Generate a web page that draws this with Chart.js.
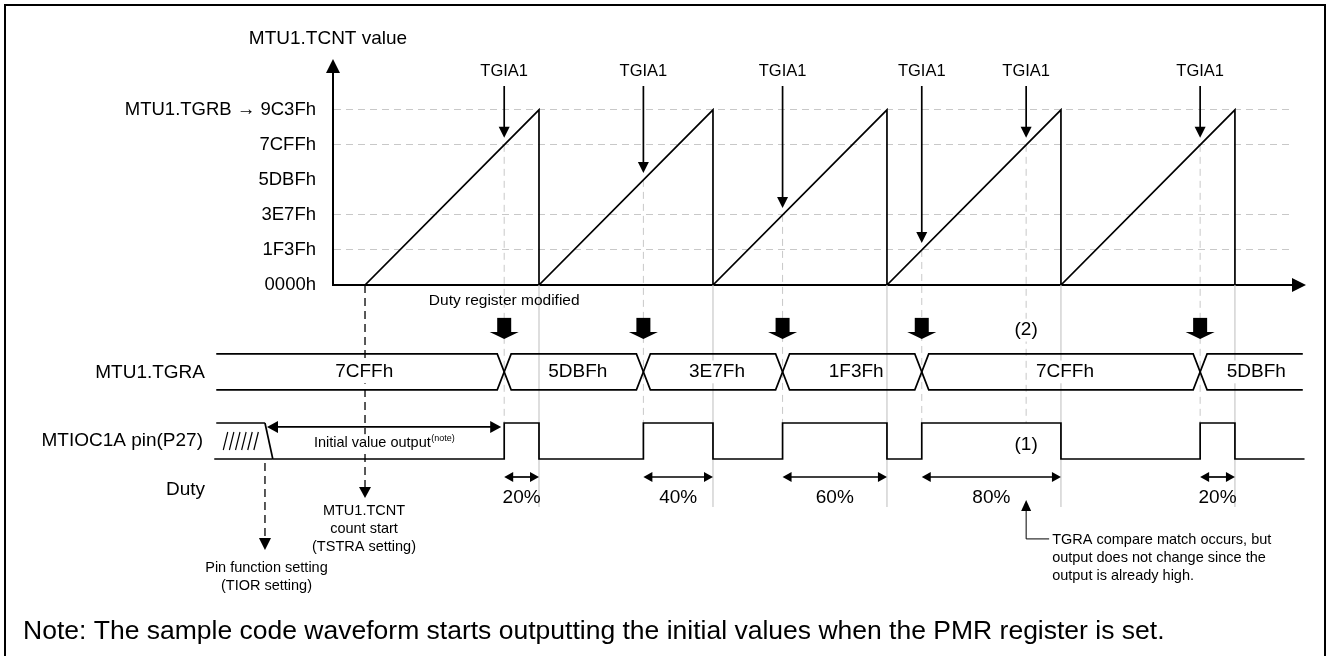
<!DOCTYPE html>
<html>
<head>
<meta charset="utf-8">
<title>MTU1 PWM duty change timing</title>
<script src="https://cdn.jsdelivr.net/npm/chart.js@4.4.1/dist/chart.umd.min.js"></script>
<style>
  html, body { margin: 0; padding: 0; background: #fff; }
  canvas { display: block; }
</style>
</head>
<body>
<canvas id="timing" width="1328" height="656"></canvas>
<script>
// values (time is counted in TCNT periods, 0 = count start)
const TGRB = 0x9C3F;
const tickValues = [0x0000, 0x1F3F, 0x3E7F, 0x5DBF, 0x7CFF, 0x9C3F];
const tickLabels = ['0000h', '1F3Fh', '3E7Fh', '5DBFh', '7CFFh', 'MTU1.TGRB \u2192 9C3Fh'];
const guideTicks = [0x1F3F, 0x3E7F, 0x7CFF, 0x9C3F];

const periodStarts = [0, 1, 2, 3, 4];
const dutyPercent = [20, 40, 60, 80, 20];
const dutyLabels = ['20%', '40%', '60%', '80%', '20%'];

const tgiaTimes = [0.8, 1.6, 2.4, 3.2, 3.8, 4.8];
const tgiaCounts = [0x7CFF, 0x5DBF, 0x3E7F, 0x1F3F, 0x7CFF, 0x7CFF];

const tgraChangeTimes = [0.8, 1.6, 2.4, 3.2, 4.8];
const tgraLabels = ['7CFFh', '5DBFh', '3E7Fh', '1F3Fh', '7CFFh', '5DBFh'];

const pinSetTime = -0.575;      // TIOR written
const timelineStart = -0.855;
const timelineEnd = 5.40;

const calloutLines = ['TGRA compare match occurs, but', 'output does not change since the', 'output is already high.'];
const noteText = 'Note: The sample code waveform starts outputting the initial values when the PMR register is set.';

// rows below the counter plot, in "lane" units (1 unit = pin swing)
const LANE = {
  editNote: 4.39, blockTop: 3.92, blockNeck: 3.53, blockTip: 3.33, mark2: 3.58,
  busHigh: 2.92, busLow: 1.92,
  initArrow: 0.89, pinHigh: 1, initText: 0.44, mark1: 0.39, pinLow: 0,
  dutyArrow: -0.5, dutyName: -0.86, dutyText: -1.08,
  startTip: -1.08, startText: -1.44, guideEnd: -1.33,
  tiorTop: -0.11, tiorTip: -2.53, tiorText: -3.03,
  calloutTip: -1.14, calloutCorner: -2.22, calloutText: -2.25,
  lineStep: 0.5
};

const FONT = '"Liberation Sans", Arial, Helvetica, sans-serif';
const GUIDE = '#c8c8c8';
const SLOPE = 0.045;   // width of the pin slope, in periods
const CROSS = 0.04;    // half width of a bus crossing, in periods
const LW = 1.7;
Chart.defaults.font.family = FONT;
Chart.defaults.color = '#000';

// counter sawtooth
const rampPoints = [];
periodStarts.forEach(s => rampPoints.push({x: s, y: 0}, {x: s + 1, y: TGRB}));
rampPoints.push({x: periodStarts[periodStarts.length - 1] + 1, y: 0});

// pin output: goes high on compare match A, low on compare match B
const pinPoints = [{x: pinSetTime + SLOPE, y: LANE.pinLow}];
periodStarts.forEach((s, i) => {
  pinPoints.push({x: s + 1 - dutyPercent[i] / 100, y: LANE.pinHigh}, {x: s + 1, y: LANE.pinLow});
});
pinPoints.push({x: timelineEnd, y: LANE.pinLow});

// TGRA bus drawn as two polylines that swap rows at each change
const busLevels = [LANE.busLow, LANE.busHigh];
const busA = [{x: timelineStart, y: busLevels[1]}];
const busB = [{x: timelineStart, y: busLevels[0]}];
tgraChangeTimes.forEach((t, i) => {
  const a = (i + 1) % 2, b = i % 2;
  busA.push({x: t - CROSS, y: busLevels[a]}, {x: t + CROSS, y: busLevels[b]});
  busB.push({x: t - CROSS, y: busLevels[b]}, {x: t + CROSS, y: busLevels[a]});
});
busA.push({x: timelineEnd - 0.01, y: busA[busA.length - 1].y});
busB.push({x: timelineEnd - 0.01, y: busB[busB.length - 1].y});

const line = (ctx, x1, y1, x2, y2, color = '#000', width = LW, dash = []) => {
  ctx.save();
  ctx.strokeStyle = color; ctx.lineWidth = width; ctx.setLineDash(dash);
  ctx.beginPath(); ctx.moveTo(x1, y1); ctx.lineTo(x2, y2); ctx.stroke();
  ctx.restore();
};

const head = (ctx, x, y, dir, len = 10, half = 5) => {
  const [dx, dy] = {up: [0, -1], down: [0, 1], left: [-1, 0], right: [1, 0]}[dir];
  ctx.save();
  ctx.fillStyle = '#000';
  ctx.beginPath();
  ctx.moveTo(x, y);
  ctx.lineTo(x - dx * len - dy * half, y - dy * len - dx * half);
  ctx.lineTo(x - dx * len + dy * half, y - dy * len + dx * half);
  ctx.closePath(); ctx.fill();
  ctx.restore();
};

const text = (ctx, str, x, y, size, align = 'center', bg = false) => {
  ctx.save();
  ctx.font = `${size}px ${FONT}`;
  ctx.textAlign = align; ctx.textBaseline = 'middle';
  if (bg) {
    const w = ctx.measureText(str).width;
    const left = align === 'center' ? x - w / 2 : align === 'right' ? x - w : x;
    ctx.fillStyle = '#fff';
    ctx.fillRect(left - 2, y - size * 0.6, w + 4, size * 1.2);
  }
  ctx.fillStyle = '#000';
  ctx.fillText(str, x, y);
  ctx.restore();
};

const mappers = chart => ({
  x: t => chart.scales.x.getPixelForValue(t),
  y: v => chart.scales.y.getPixelForValue(v),
  l: v => chart.scales.lane.getPixelForValue(v),
});

const timingPlugin = {
  id: 'timing',
  beforeDatasetsDraw(chart) {
    const {ctx} = chart;
    const {x, y, l} = mappers(chart);
    tgiaTimes.forEach((t, i) => line(ctx, x(t), y(tgiaCounts[i]), x(t), l(LANE.pinHigh), GUIDE, 1, [7, 5]));
    periodStarts.forEach(s => line(ctx, x(s + 1), y(0), x(s + 1), l(LANE.guideEnd), GUIDE, 1.2));
  },
  afterDatasetsDraw(chart) {
    const {ctx, chartArea: area} = chart;
    const {x, y, l} = mappers(chart);

    // axis arrows and title
    line(ctx, area.left, area.top, area.left, area.top + 2, '#000', 2);
    head(ctx, area.left, area.top - 14, 'up', 14, 7);
    head(ctx, area.right + 14, area.bottom, 'right', 14, 7);
    text(ctx, 'MTU1.TCNT value', area.left - 5, area.top - 34.5, 19);

    // TGIA1 interrupts
    tgiaTimes.forEach((t, i) => {
      text(ctx, 'TGIA1', x(t), area.top - 1.5, 16.5);
      line(ctx, x(t), area.top + 13, x(t), y(tgiaCounts[i]) - 14);
      head(ctx, x(t), y(tgiaCounts[i]) - 7, 'down', 11, 5.5);
    });

    // count start
    line(ctx, x(0), y(0), x(0), l(LANE.startTip) - 8, '#000', 1.3, [8, 5]);
    head(ctx, x(0), l(LANE.startTip), 'down', 11, 6);
    ['MTU1.TCNT', 'count start', '(TSTRA setting)'].forEach((s, i) =>
      text(ctx, s, x(0) - 1, l(LANE.startText - i * LANE.lineStep), 14.5));

    // duty register modified
    text(ctx, 'Duty register modified', x(tgraChangeTimes[0]), l(LANE.editNote), 15.5);
    tgraChangeTimes.forEach(t => {
      const cx = x(t);
      ctx.save();
      ctx.fillStyle = '#000';
      ctx.fillRect(cx - 7, l(LANE.blockTop), 14, l(LANE.blockNeck) - l(LANE.blockTop) + 0.5);
      ctx.restore();
      head(ctx, cx, l(LANE.blockTip), 'down', l(LANE.blockTip) - l(LANE.blockNeck), 14.5);
    });
    text(ctx, '(2)', x(tgiaTimes[4]), l(LANE.mark2), 19, 'center', true);

    // TGRA values
    const edges = [timelineStart, ...tgraChangeTimes, timelineEnd];
    tgraLabels.forEach((s, i) =>
      text(ctx, s, (x(edges[i]) + x(edges[i + 1])) / 2 + 4, l((LANE.busHigh + LANE.busLow) / 2), 19, 'center', true));

    // row names
    const nameX = area.left - 128;
    text(ctx, 'MTU1.TGRA', nameX, l((LANE.busHigh + LANE.busLow) / 2) + 1, 19, 'right');
    text(ctx, 'MTIOC1A pin(P27)', nameX - 2, l((LANE.pinHigh + LANE.pinLow) / 2), 19, 'right');
    text(ctx, 'Duty', nameX, l(LANE.dutyName), 19, 'right');

    // undefined pin state before TIOR setting
    const xs = x(timelineStart), xp = x(pinSetTime), xq = x(pinSetTime + SLOPE);
    line(ctx, xs, l(LANE.pinHigh), xp, l(LANE.pinHigh));
    line(ctx, xs - 2, l(LANE.pinLow), xq, l(LANE.pinLow));
    line(ctx, xp, l(LANE.pinHigh), xq, l(LANE.pinLow));
    const hatchW = (xp - xs - 12) / 6;
    for (let i = 0; i < 6; i++) {
      const hx = xs + 7 + i * hatchW;
      line(ctx, hx, l(0.25), hx + 4.5, l(0.75), '#000', 1.2);
    }
    line(ctx, xp, l(LANE.tiorTop), xp, l(LANE.tiorTip) - 8, '#000', 1.3, [8, 5]);
    head(ctx, xp, l(LANE.tiorTip), 'down', 12, 6);
    ['Pin function setting', '(TIOR setting)'].forEach((s, i) =>
      text(ctx, s, xp + 1.5, l(LANE.tiorText - i * LANE.lineStep), 14.5));

    // initial value output
    const a0 = xp + 2, a1 = x(tgiaTimes[0]) - 3, ay = l(LANE.initArrow);
    line(ctx, a0 + 8, ay, a1 - 8, ay);
    head(ctx, a0, ay, 'left', 11, 6);
    head(ctx, a1, ay, 'right', 11, 6);
    ctx.save();
    ctx.font = `14.5px ${FONT}`;
    const w1 = ctx.measureText('Initial value output').width;
    ctx.font = `9px ${FONT}`;
    const w2 = ctx.measureText('(note)').width;
    ctx.restore();
    const tx = (a0 + a1) / 2 - (w1 + w2) / 2;
    ctx.save();
    ctx.fillStyle = '#fff';
    ctx.fillRect(tx - 2, l(LANE.initText) - 9, w1 + w2 + 4, 18);
    ctx.restore();
    text(ctx, 'Initial value output', tx, l(LANE.initText), 14.5, 'left');
    text(ctx, '(note)', tx + w1 + 0.5, l(LANE.initText) - 5, 9, 'left');
    text(ctx, '(1)', x(tgiaTimes[4]), l(LANE.mark1), 19, 'center', true);

    // duty arrows
    periodStarts.forEach((s, i) => {
      const d0 = x(s + 1 - dutyPercent[i] / 100), d1 = x(s + 1), dy = l(LANE.dutyArrow);
      line(ctx, d0 + 6, dy, d1 - 6, dy);
      head(ctx, d0, dy, 'left', 9, 5);
      head(ctx, d1, dy, 'right', 9, 5);
      text(ctx, dutyLabels[i], (d0 + d1) / 2, l(LANE.dutyText), 19);
    });

    // callout for the compare match that leaves the output unchanged
    const cx = x(tgiaTimes[4]);
    head(ctx, cx, l(LANE.calloutTip), 'up', 11, 5);
    line(ctx, cx, l(LANE.calloutTip) + 10, cx, l(LANE.calloutCorner), '#000', 1);
    line(ctx, cx, l(LANE.calloutCorner), cx + 23, l(LANE.calloutCorner), '#000', 1);
    calloutLines.forEach((s, i) => text(ctx, s, cx + 26, l(LANE.calloutText - i * LANE.lineStep), 14.5, 'left'));
  },
  afterDraw(chart) {
    const {ctx} = chart;
    ctx.save();
    ctx.strokeStyle = '#000';
    ctx.lineWidth = 2;
    ctx.strokeRect(5, 5, 1320, 700);
    ctx.restore();
  }
};

const waveLine = (data, extra = {}) => Object.assign({
  type: 'line', data, yAxisID: 'lane', borderColor: '#000', borderWidth: LW,
  pointRadius: 0, fill: false, tension: 0, clip: false
}, extra);

new Chart(document.getElementById('timing'), {
  type: 'line',
  data: {
    datasets: [
      {label: 'MTU1.TCNT', data: rampPoints, yAxisID: 'y', borderColor: '#000', borderWidth: LW,
       pointRadius: 0, fill: false, tension: 0},
      waveLine(pinPoints, {label: 'MTIOC1A', stepped: true}),
      waveLine(busA, {label: 'TGRA upper'}),
      waveLine(busB, {label: 'TGRA lower'}),
    ]
  },
  options: {
    responsive: false,
    animation: false,
    events: [],
    layout: {padding: {top: 73, left: 23, right: 36, bottom: 0}},
    scales: {
      x: {
        type: 'linear', min: -0.184, max: 5.328,
        grid: {display: false},
        ticks: {display: false},
        border: {display: true, color: '#000', width: 2},
        afterFit: s => { s.height = 0; }
      },
      y: {
        type: 'linear', position: 'left', min: 0, max: 48400,
        afterBuildTicks: s => { s.ticks = tickValues.map(v => ({value: v})); },
        afterFit: s => { s.width = 310; },
        ticks: {
          autoSkip: false, padding: 17, color: '#000',
          font: {size: 18.5},
          callback: v => tickLabels[tickValues.indexOf(v)]
        },
        grid: {
          drawTicks: false, lineWidth: 1,
          color: c => (c.tick && guideTicks.includes(c.tick.value)) ? GUIDE : 'rgba(0,0,0,0)'
        },
        border: {display: true, color: '#000', width: 2, dash: [7, 5]}
      },
      lane: {
        type: 'linear', position: 'right', display: false, min: 4.8333, max: 10.7222
      }
    },
    plugins: {
      legend: {display: false},
      tooltip: {enabled: false},
      title: {
        display: true, position: 'bottom', align: 'start', text: noteText, color: '#000',
        font: {size: 26.5, weight: 'normal', lineHeight: 1.2},
        padding: {top: 331.1, bottom: 8.1}
      }
    }
  },
  plugins: [timingPlugin]
});
</script>
</body>
</html>
